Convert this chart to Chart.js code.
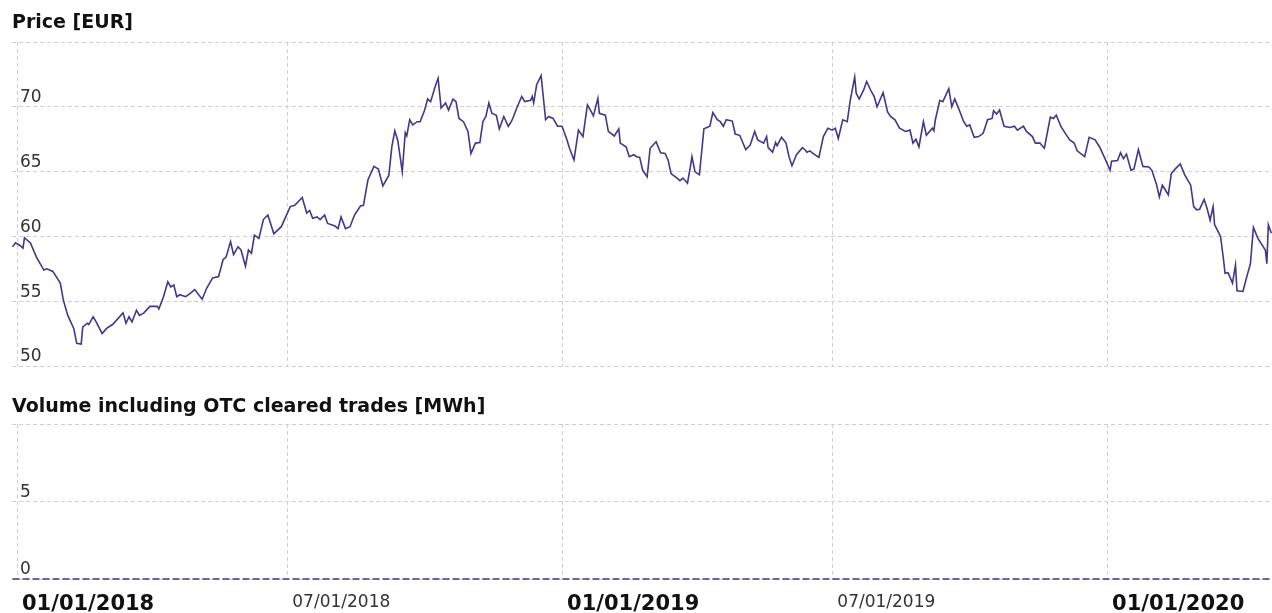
<!DOCTYPE html>
<html>
<head>
<meta charset="utf-8">
<script src="https://cdn.jsdelivr.net/npm/chart.js@4"></script>
<style>
  body { margin: 0; background: #fff; width: 1272px; height: 613px; overflow: hidden; position: relative; font-family: "DejaVu Sans", Verdana, sans-serif; }
  .title { position: absolute; left: 12px; font-weight: bold; font-size: 19px; line-height: 19px; color: #111; white-space: nowrap; z-index: 2; }
  canvas { position: absolute; left: 0; }
  #priceChart { top: 0; }
  #volumeChart { top: 380px; }
</style>
</head>
<body>
<canvas id="priceChart" width="1272" height="380"></canvas>
<canvas id="volumeChart" width="1272" height="233"></canvas>
<div class="title" style="top:12px">Price [EUR]</div>
<div class="title" style="top:396px">Volume including OTC cleared trades [MWh]</div>
<script>
// ---------------------- DATA ----------------------
// x values are days counted from 01/01/2018
const dayOffsets = [-3,-1,2,4,5,9,13,18,20,24,29,31,34,38,40,43,44,47,48,51,53,57,60,64,71,73,75,77,80,82,85,89,94,95,98,101,103,105,107,109,113,116,119,124,127,131,135,138,140,143,145,148,150,153,155,157,159,162,165,168,172,177,183,186,191,194,196,198,201,203,206,208,213,215,217,220,223,226,230,232,235,239,242,245,249,251,253,255,258,260,261,263,265,268,270,273,275,277,280,282,284,287,289,292,294,296,299,302,304,307,310,312,314,316,318,321,323,326,329,331,332,335,338,340,344,345,346,348,351,354,356,359,362,365,368,370,373,376,379,382,384,386,389,390,394,396,400,403,404,408,410,413,415,417,419,422,424,428,431,434,436,438,442,444,446,449,451,452,454,457,460,464,466,469,471,473,475,479,481,484,488,491,494,496,500,502,503,506,508,509,512,515,517,519,522,526,528,529,531,533,537,540,543,546,548,550,553,556,558,561,562,564,567,569,572,574,576,580,583,585,588,591,595,598,600,602,604,607,609,613,614,615,618,620,624,626,628,631,634,636,638,641,644,647,650,653,654,656,658,661,665,668,670,672,674,676,680,682,685,688,692,694,696,699,702,705,708,710,715,718,722,725,729,732,733,737,739,741,743,746,748,751,754,758,760,763,765,767,769,771,773,776,779,782,786,788,790,792,795,797,799,801,802,806,808,809,811,814,816,817,821,823,826,828,831,836,837,838,840];

const prices = [59.2,59.5,59.3,59.1,59.9,59.5,58.4,57.4,57.5,57.3,56.4,55.1,53.9,52.9,51.75,51.7,53.0,53.3,53.2,53.8,53.4,52.5,52.9,53.2,54.1,53.3,53.8,53.4,54.3,53.9,54.1,54.6,54.6,54.4,55.3,56.5,56.1,56.25,55.35,55.5,55.35,55.6,55.9,55.15,56.0,56.8,56.9,58.2,58.4,59.6,58.6,59.2,58.95,57.7,58.95,58.7,60.1,59.85,61.3,61.65,60.2,60.75,62.3,62.4,63.0,61.8,62.0,61.4,61.5,61.3,61.65,61.0,60.8,60.6,61.5,60.6,60.75,61.65,62.35,62.4,64.35,65.4,65.2,63.9,64.7,66.9,68.15,67.4,65.0,68.0,67.75,69.0,68.6,68.85,68.85,69.75,70.6,70.4,71.55,72.2,69.9,70.3,69.75,70.6,70.4,69.1,68.85,68.1,66.4,67.2,67.25,68.85,69.25,70.3,69.5,69.35,68.3,69.25,68.5,68.85,69.1,70.0,70.8,70.4,70.5,70.8,70.3,71.7,72.4,69.0,69.25,69.1,68.5,68.5,67.55,66.8,65.9,68.2,67.7,70.15,69.75,69.3,70.65,69.5,69.35,68.1,67.75,68.3,67.2,66.9,66.15,66.3,66.15,66.1,65.1,64.6,66.8,67.3,66.45,66.4,65.9,64.85,64.5,64.3,64.5,64.1,65.4,66.15,65.0,64.75,68.3,68.5,69.55,69.0,68.85,68.5,69.0,68.9,67.9,67.8,66.7,67.05,68.1,67.45,67.2,67.7,66.85,66.5,67.25,67.0,67.65,67.2,66.15,65.45,66.3,66.85,66.65,66.5,66.6,66.4,66.1,67.7,68.35,68.2,68.35,67.55,69.0,68.85,70.5,72.3,71.05,70.6,71.3,71.95,71.2,70.8,70.0,71.1,69.6,69.25,69.0,68.35,68.1,68.2,67.2,67.5,66.9,68.85,67.8,68.35,68.15,69.0,70.5,70.4,71.4,70.0,70.6,69.75,68.85,68.5,68.6,67.65,67.7,67.95,69.0,69.1,69.7,69.45,69.75,68.5,68.4,68.5,68.2,68.35,68.5,68.1,67.7,67.2,67.2,66.8,69.2,69.1,69.35,68.5,67.95,67.45,67.2,66.6,66.15,67.65,67.45,66.9,65.9,65.1,65.8,65.85,66.45,66.0,66.35,65.1,65.2,66.7,65.4,65.35,65.1,64.05,63.05,63.95,63.6,63.2,64.85,65.25,65.6,64.75,63.95,62.3,62.05,62.1,62.85,62.15,61.25,62.3,60.9,60.0,58.2,57.15,57.2,56.4,57.8,55.8,55.75,56.65,57.9,60.7,59.85,58.95,57.9,60.9,60.25];

// no volume traded over the whole period
const volumeDays = [-3, 840];
const volumes = [0, 0];

const tickDays = [0, 181, 365, 546, 730];
const tickLabels = ["01/01/2018", "07/01/2018", "01/01/2019", "07/01/2019", "01/01/2020"];
const priceTicks = [50, 55, 60, 65, 70, 75];
const volumeTicks = [0, 5, 10];

// ---------------------- SHARED STYLE ----------------------
const FONT = "'DejaVu Sans', Verdana, sans-serif";
const LINE_COLOR = "#423788";
const GRID = { color: "#cfcfcf", lineWidth: 1, drawTicks: false };
const BORDER = { display: false, dash: [4, 3] };
const X_MIN = -3.35;
const X_MAX = 840.45;

function labelFor(v) {
  const i = tickDays.indexOf(v);
  return i < 0 ? "" : tickLabels[i];
}
function isJanuary(ctx) {
  return !!(ctx && ctx.tick && labelFor(ctx.tick.value).startsWith("01/01"));
}

function yAxis(min, max, ticks) {
  return {
    min, max,
    afterBuildTicks: (s) => { s.ticks = ticks.map((v) => ({ value: v })); },
    afterFit: (s) => { s.width = 0; s.paddingTop = 0; s.paddingBottom = 0; },
    grid: GRID,
    border: BORDER,
    ticks: {
      mirror: true,
      padding: 8,
      labelOffset: -9,
      color: "#333",
      font: { family: FONT, size: 17 },
      callback: (v) => (v === max ? "" : v),
    },
  };
}

function xAxis(showLabels) {
  return {
    type: "linear",
    min: X_MIN,
    max: X_MAX,
    afterBuildTicks: (s) => { s.ticks = tickDays.map((v) => ({ value: v })); },
    afterFit: (s) => {
      s.height = showLabels ? 34 : 0;
      s.paddingLeft = 0;
      s.paddingRight = 0;
    },
    grid: GRID,
    border: BORDER,
    ticks: {
      display: showLabels,
      autoSkip: false,
      maxRotation: 0,
      align: "start",
      labelOffset: 5,
      padding: 13,
      color: (ctx) => (isJanuary(ctx) ? "#111" : "#333"),
      font: (ctx) => {
        const jan = isJanuary(ctx);
        return { family: FONT, size: jan ? 21 : 17, weight: jan ? "bold" : "normal" };
      },
      callback: (v) => labelFor(v),
    },
  };
}

const baseOptions = {
  responsive: false,
  animation: false,
  plugins: { legend: { display: false }, tooltip: { enabled: false } },
};

// ---------------------- PRICE CHART ----------------------
new Chart(document.getElementById("priceChart"), {
  type: "line",
  data: {
    datasets: [
      {
        data: dayOffsets.map((d, i) => ({ x: d, y: prices[i] })),
        borderColor: LINE_COLOR,
        borderWidth: 1.6,
        pointRadius: 0,
        tension: 0,
      },
    ],
  },
  options: {
    ...baseOptions,
    layout: { padding: { left: 12, right: 0, top: 42, bottom: 14 } },
    scales: { x: xAxis(false), y: yAxis(50, 75, priceTicks) },
  },
});

// ---------------------- VOLUME CHART ----------------------
new Chart(document.getElementById("volumeChart"), {
  type: "line",
  data: {
    datasets: [
      {
        data: volumeDays.map((d, i) => ({ x: d, y: volumes[i] })),
        borderColor: LINE_COLOR,
        borderWidth: 1.6,
        borderDash: [7, 3],
        pointRadius: 0,
        clip: false,
      },
    ],
  },
  options: {
    ...baseOptions,
    layout: { padding: { left: 12, right: 0, top: 44, bottom: 0 } },
    scales: { x: xAxis(true), y: yAxis(0, 10, volumeTicks) },
  },
});
</script>
</body>
</html>
